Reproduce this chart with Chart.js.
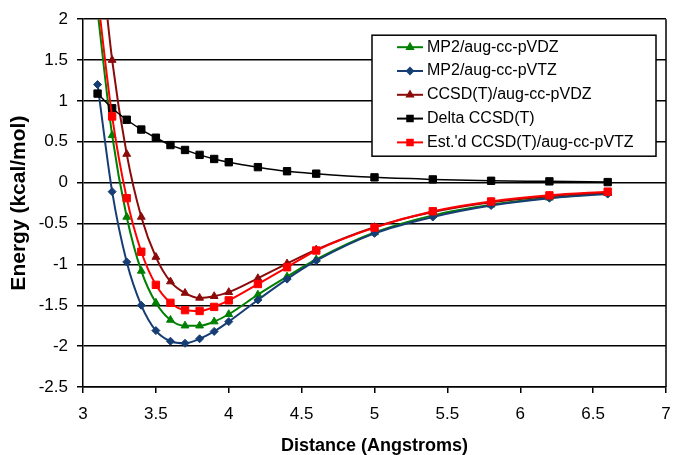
<!DOCTYPE html>
<html>
<head>
<meta charset="utf-8">
<script src="https://cdn.jsdelivr.net/npm/chart.js@4.4.0/dist/chart.umd.min.js"></script>
<style>
  html, body { margin: 0; padding: 0; background: #fff; }
  #wrap { width: 673px; height: 455px; position: relative; }
</style>
</head>
<body>
<div id="wrap"><canvas id="energyChart"></canvas></div>
<script>
// distances (Angstroms)
var distances = [3.1, 3.2, 3.3, 3.4, 3.5, 3.6, 3.7, 3.8, 3.9, 4.0, 4.2, 4.4, 4.6, 5.0, 5.4, 5.8, 6.2, 6.6];

// energies (kcal/mol)
var mp2DZ   = [2.10, 0.58, -0.42, -1.08, -1.47, -1.68, -1.75, -1.75, -1.70, -1.61, -1.37, -1.15, -0.94, -0.61, -0.40, -0.27, -0.185, -0.13];
var mp2TZ   = [1.20, -0.11, -0.97, -1.50, -1.81, -1.94, -1.965, -1.91, -1.82, -1.70, -1.435, -1.18, -0.955, -0.62, -0.42, -0.28, -0.19, -0.14];
var ccsdDZ  = [3.20, 1.50, 0.35, -0.42, -0.91, -1.21, -1.35, -1.41, -1.39, -1.34, -1.17, -0.99, -0.82, -0.545, -0.36, -0.24, -0.165, -0.12];
var deltaCC = [1.09, 0.91, 0.77, 0.65, 0.55, 0.46, 0.40, 0.34, 0.29, 0.25, 0.19, 0.14, 0.11, 0.065, 0.04, 0.023, 0.016, 0.007];
var estTZ   = [2.29, 0.81, -0.19, -0.845, -1.25, -1.47, -1.56, -1.57, -1.52, -1.44, -1.24, -1.035, -0.83, -0.55, -0.35, -0.23, -0.155, -0.11];

var seriesNames = ['MP2/aug-cc-pVDZ', 'MP2/aug-cc-pVTZ', 'CCSD(T)/aug-cc-pVDZ', 'Delta CCSD(T)', "Est.'d CCSD(T)/aug-cc-pVTZ"];

var FONT = '"Liberation Sans", Arial, sans-serif';
Chart.defaults.font.family = FONT;
Chart.defaults.color = '#000';

function pts(arr) {
    return distances.map(function(x, i) { return { x: x, y: arr[i] }; });
}

function plainTick(value) {
    return String(Math.round(value * 10) / 10);
}

function makeSet(idx, values, color, style, radius, width) {
    return {
        label: seriesNames[idx],
        data: pts(values),
        showLine: true,
        borderColor: color,
        backgroundColor: color,
        borderWidth: width,
        pointStyle: style,
        pointRadius: radius,
        pointBorderWidth: 1,
        pointBackgroundColor: color,
        pointBorderColor: color,
        cubicInterpolationMode: 'monotone',
        order: 5 - idx
    };
}

// right border of the plot area
var frame = {
    id: 'frame',
    beforeDatasetsDraw: function(chart) {
        var a = chart.chartArea, ctx = chart.ctx;
        ctx.save();
        ctx.strokeStyle = '#000';
        ctx.lineWidth = 1.5;
        ctx.beginPath();
        ctx.moveTo(a.right, a.top);
        ctx.lineTo(a.right, a.bottom);
        ctx.stroke();
        ctx.restore();
    }
};

// boxed legend sitting inside the plot
var boxLegend = {
    id: 'boxLegend',
    afterDraw: function(chart) {
        var ctx = chart.ctx, a = chart.chartArea;
        var left = a.right - 294, top = a.top + 16, w = 284, h = 121;
        ctx.save();
        ctx.fillStyle = '#fff';
        ctx.fillRect(left, top, w, h);
        ctx.strokeStyle = '#000';
        ctx.lineWidth = 1.5;
        ctx.strokeRect(left, top, w, h);
        ctx.font = '16px ' + FONT;
        ctx.textBaseline = 'middle';
        chart.data.datasets.forEach(function(ds, i) {
            var y = top + 12 + i * 23.8;
            ctx.strokeStyle = ds.borderColor;
            ctx.lineWidth = 2;
            ctx.beginPath();
            ctx.moveTo(left + 25, y);
            ctx.lineTo(left + 51, y);
            ctx.stroke();
            ctx.fillStyle = ds.backgroundColor;
            Chart.helpers.drawPoint(ctx, { pointStyle: ds.pointStyle, radius: ds.pointRadius * 0.75, rotation: 0, borderWidth: 1 }, left + 38, y);
            ctx.fillStyle = '#000';
            ctx.fillText(ds.label, left + 55, y);
        });
        ctx.restore();
    }
};

function renderEnergyChart() {
    var ctx = document.getElementById('energyChart').getContext('2d');
    new Chart(ctx, {
        type: 'scatter',
        data: {
            datasets: [
                makeSet(0, mp2DZ, '#008000', 'triangle', 4.5, 2),
                makeSet(1, mp2TZ, '#163e74', 'rectRot', 4, 2),
                makeSet(2, ccsdDZ, '#8b0a0a', 'triangle', 4.5, 2),
                makeSet(3, deltaCC, '#000000', 'rect', 5.2, 1.5),
                makeSet(4, estTZ, '#ff0000', 'rect', 5.2, 2)
            ]
        },
        options: {
            responsive: true,
            maintainAspectRatio: false,
            animation: false,
            layout: { padding: { top: 19, right: 7, left: 0, bottom: 0 } },
            plugins: {
                legend: { display: false },
                tooltip: { enabled: false }
            },
            scales: {
                x: {
                    type: 'linear',
                    min: 3,
                    max: 7,
                    afterFit: function(scale) {
                        scale.height = 68;
                        scale.paddingLeft = 0;
                        scale.paddingRight = 0;
                    },
                    ticks: { stepSize: 0.5, padding: 11, font: { size: 17 }, color: '#000', maxRotation: 0, callback: plainTick },
                    grid: { display: true, drawOnChartArea: false, drawTicks: true, tickLength: 6, color: '#000', lineWidth: 1.5 },
                    border: { display: true, color: '#000', width: 1.5 },
                    title: { display: true, text: 'Distance (Angstroms)', font: { size: 18, weight: 'bold', lineHeight: 1.0 }, padding: { top: 0, bottom: 0 }, color: '#000' }
                },
                y: {
                    min: -2.5,
                    max: 2,
                    afterFit: function(scale) { scale.width = 83; },
                    ticks: { stepSize: 0.5, padding: 9, font: { size: 17 }, color: '#000', callback: plainTick },
                    grid: { display: true, drawOnChartArea: true, drawTicks: true, tickLength: 6, color: '#000', lineWidth: 1.5 },
                    border: { display: true, color: '#000', width: 1.5 },
                    title: { display: true, text: 'Energy (kcal/mol)', font: { size: 21, weight: 'bold' }, padding: { top: 7, bottom: 0 }, color: '#000' }
                }
            }
        },
        plugins: [frame, boxLegend]
    });
}

document.addEventListener('DOMContentLoaded', renderEnergyChart);
</script>
</body>
</html>
